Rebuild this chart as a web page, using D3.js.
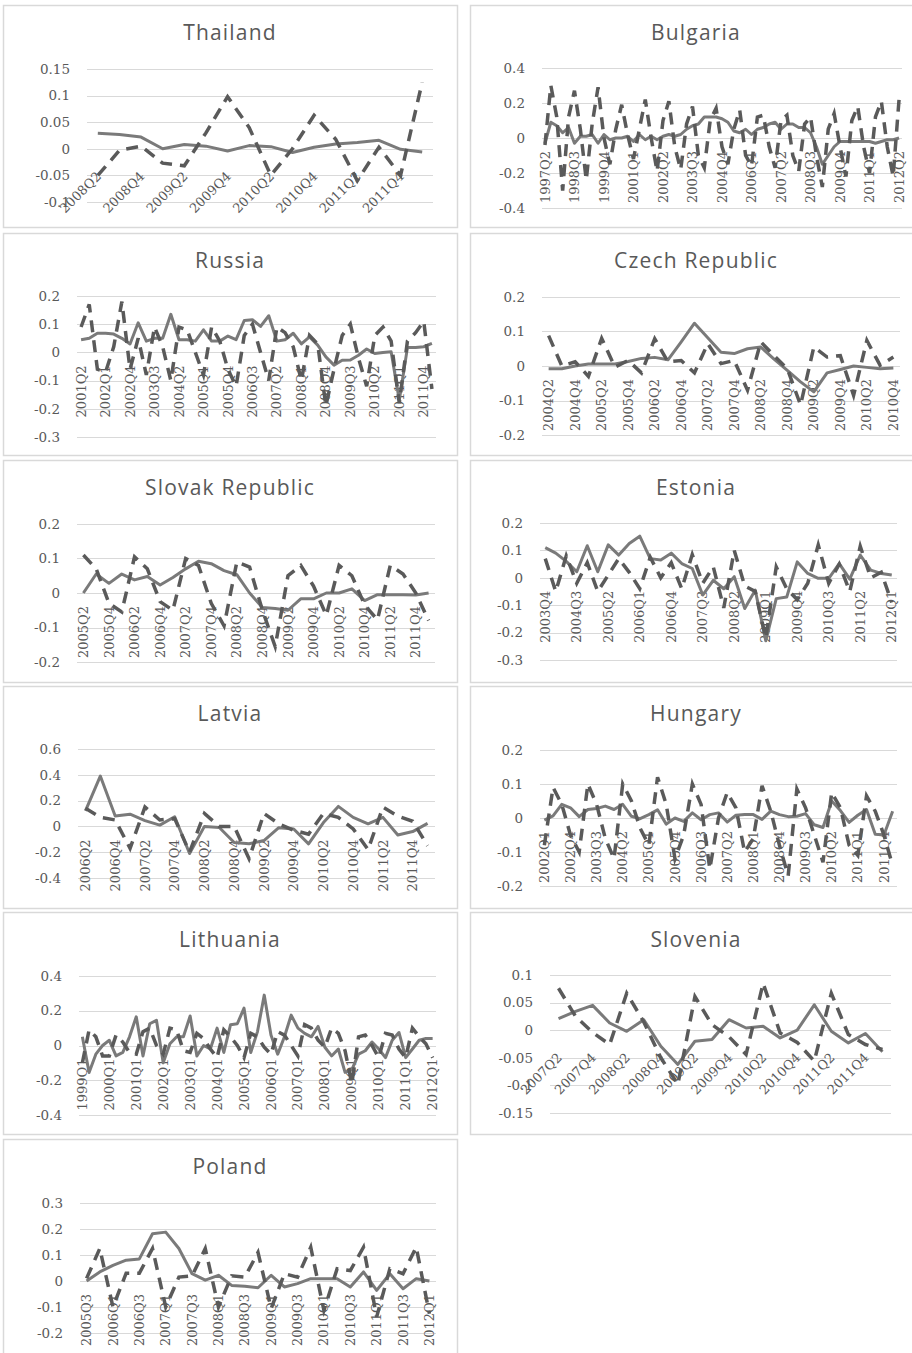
<!DOCTYPE html>
<html>
<head>
<meta charset="utf-8">
<script src="https://cdn.jsdelivr.net/npm/d3@7"></script>
<style>
    body { margin: 0; background: #fff; }
    svg { display: block; }
    .title { font-family: "Open Sans", "DejaVu Sans", sans-serif; font-size: 21px; letter-spacing: 1.2px; fill: #595959; }
    .tick-label { font-family: "DejaVu Serif", serif; font-size: 13.5px; fill: #595959; }
    .cat-label { font-family: "DejaVu Serif", serif; font-size: 13px; fill: #595959; }
</style>
</head>
<body>
<div id="chart"></div>
<script>

// quarter labels, built from first quarter + number of points
function quarters(start, n) {
    var yr = +start.slice(0, 4), q = +start.slice(5);
    var out = [];
    for (var i = 0; i < n; i++) {
        out.push(yr + "Q" + q);
        q++;
        if (q > 4) { q = 1; yr++; }
    }
    return out;
}

// ---- data (solid = first series, dashed = second series) ----
var thailandSolid = [0.029, 0.027, 0.022, 0.0, 0.008, 0.005, -0.004, 0.006, 0.004, -0.007, 0.003, 0.009, 0.012, 0.016, -0.001, -0.006];
var thailandDashed = [-0.05, -0.003, 0.005, -0.027, -0.032, 0.03, 0.098, 0.04, -0.05, 0.0, 0.063, 0.018, -0.06, 0.003, -0.05, 0.125];
var thailandTicks = [-0.1, -0.05, 0, 0.05, 0.1, 0.15];

var bulgariaSolid = [-0.03, 0.09, 0.07, 0.03, 0.06, -0.03, 0.01, 0.01, 0.02, -0.03,
    0.02, -0.01, 0.0, 0.0, 0.01, -0.02, 0.02, -0.01, 0.01, -0.01,
    0.01, 0.02, 0.01, 0.02, 0.05, 0.07, 0.08, 0.12, 0.12, 0.12,
    0.11, 0.09, 0.04, 0.03, 0.05, 0.02, 0.05, 0.06, 0.08, 0.09,
    0.05, 0.08, 0.08, 0.06, 0.06, 0.03, -0.05, -0.15, -0.1, -0.05,
    -0.02, -0.02, -0.02, -0.02, -0.02, -0.02, -0.03, -0.02, -0.01, -0.01, 0.0];
var bulgariaDashed = [-0.04, 0.3, 0.12,
    -0.3, 0.12, 0.27, 0.05,
    -0.24, 0.08, 0.29, 0.0,
    -0.15, 0.05, 0.19, 0.02,
    -0.12, 0.05, 0.22, 0.0,
    -0.19, 0.1, 0.21, -0.05,
    -0.18, 0.08, 0.18, -0.1,
    -0.17, 0.1, 0.17, -0.05,
    -0.15, 0.05, 0.16, -0.1,
    -0.16, 0.12, 0.13, -0.05,
    -0.17, 0.1, 0.13, -0.1,
    -0.19, 0.08, 0.12, -0.1,
    -0.28, 0.05, 0.14, -0.05,
    -0.22, 0.1, 0.18, -0.05,
    -0.2, 0.12, 0.21, -0.05,
    -0.22, 0.22];
var bulgariaTicks = [-0.4, -0.2, 0, 0.2, 0.4];

var russiaSolid = [0.045, 0.05, 0.068, 0.068, 0.065, 0.05, 0.03, 0.105, 0.04, 0.05,
    0.05, 0.135, 0.045, 0.045, 0.04, 0.08, 0.04, 0.04, 0.058, 0.045,
    0.113, 0.116, 0.092, 0.13, 0.04, 0.045, 0.068, 0.03, 0.055, 0.026,
    -0.016, -0.045, -0.028, -0.027, -0.01, 0.012, -0.004, 0.0, 0.002, -0.17,
    0.017, 0.017, 0.02, 0.032];
var russiaDashed = [0.09, 0.17, -0.06, -0.07, 0.02, 0.18, -0.06, 0.05, -0.08, 0.09,
    0.02, -0.1, 0.09, 0.08, 0.0, -0.08, 0.09, 0.04, -0.06, -0.12,
    0.06, 0.1, 0.0, -0.1, 0.09, 0.07, 0.02, -0.1, 0.06, 0.03,
    -0.19, -0.06, 0.06, 0.1, -0.02, -0.12, 0.06, 0.09, 0.04, -0.18,
    0.04, 0.07, 0.11, -0.13];
var russiaTicks = [-0.3, -0.2, -0.1, 0, 0.1, 0.2];

var czechSolid = [-0.008, -0.008, 0.0, 0.006, 0.006, 0.006, 0.013, 0.022, 0.025, 0.018,
    0.07, 0.124, 0.082, 0.04, 0.036, 0.05, 0.055, 0.02, -0.013, -0.046,
    -0.075, -0.02, -0.01, 0.0, -0.004, -0.008, -0.006];
var czechDashed = [0.088, 0.0, 0.012, -0.03, 0.08, -0.003, 0.016, -0.02, 0.079, 0.012,
    0.016, -0.02, 0.065, 0.007, 0.016, -0.07, 0.07, 0.03, -0.008, -0.113,
    0.055, 0.026, 0.03, -0.085, 0.074, 0.002, 0.026];
var czechTicks = [-0.2, -0.1, 0, 0.1, 0.2];

var slovakSolid = [0.0, 0.055, 0.028, 0.055, 0.038, 0.048, 0.023, 0.045, 0.07, 0.092,
    0.085, 0.065, 0.053, 0.0, -0.042, -0.045, -0.05, -0.017, -0.017, 0.0,
    0.0, 0.012, -0.022, -0.005, -0.005, -0.005, -0.006, 0.0];
var slovakDashed = [0.11, 0.07, -0.03, -0.055, 0.105, 0.07, -0.025, -0.05, 0.1, 0.08,
    -0.03, -0.095, 0.09, 0.075, -0.05, -0.155, 0.05, 0.08, 0.02, -0.065,
    0.08, 0.05, -0.035, -0.078, 0.08, 0.055, 0.0, -0.08];
var slovakTicks = [-0.2, -0.1, 0, 0.1, 0.2];

var estoniaSolid = [0.11, 0.09, 0.06, 0.022, 0.117, 0.022, 0.12, 0.083, 0.125, 0.152,
    0.07, 0.065, 0.09, 0.052, 0.034, -0.063, -0.009, -0.04, 0.004, -0.112,
    -0.045, -0.23, -0.076, -0.07, 0.058, 0.016, -0.002, -0.002, 0.052, -0.005,
    0.083, 0.028, 0.016, 0.01];
var estoniaDashed = [0.07, -0.05, 0.08, -0.02, 0.055, -0.05, 0.01, 0.07, 0.02, -0.04,
    0.075, 0.0, 0.055, -0.04, 0.085, -0.02, 0.04, -0.11, 0.1, -0.03,
    -0.05, -0.22, 0.04, -0.04, -0.08, -0.02, 0.12, -0.02, 0.05, -0.05,
    0.115, 0.0, 0.02, -0.09];
var estoniaTicks = [-0.3, -0.2, -0.1, 0, 0.1, 0.2];

var latviaSolid = [0.12, 0.39, 0.08, 0.095, 0.045, 0.01, 0.075, -0.21, 0.0, -0.008,
    -0.125, -0.135, -0.11, -0.01, -0.02, -0.135, 0.03, 0.155, 0.07, 0.02,
    0.07, -0.067, -0.04, 0.023];
var latviaDashed = [0.14, 0.07, 0.05, -0.17, 0.15, 0.05, 0.06, -0.2, 0.1, 0.0,
    0.0, -0.25, 0.1, 0.02, -0.03, -0.06, 0.1, 0.07, -0.02, -0.18,
    0.15, 0.08, 0.04, -0.15];
var latviaTicks = [-0.4, -0.2, 0, 0.2, 0.4, 0.6];

var hungarySolid = [-0.006, 0.006, 0.04, 0.03, 0.004, 0.025, 0.028, 0.035, 0.025, 0.04,
    0.005, -0.002, 0.01, 0.024, -0.018, 0.0, -0.01, 0.015, -0.005, 0.01,
    0.015, -0.012, 0.008, 0.01, 0.01, -0.004, 0.02, 0.01, 0.004, 0.005,
    0.013, -0.02, -0.028, 0.05, 0.022, -0.013, 0.008, 0.025, -0.048, -0.05,
    0.02];
var hungaryDashed = [-0.08, 0.09, 0.04, -0.05, -0.1, 0.1, 0.04, -0.06, -0.12, 0.1,
    0.05, -0.03, -0.08, 0.12, 0.04, -0.12, -0.05, 0.1, 0.04, -0.15,
    0.0, 0.075, 0.03, -0.1, -0.06, 0.095, 0.02, -0.08, -0.17, 0.085,
    0.03, -0.05, -0.13, 0.075, 0.03, -0.08, -0.11, 0.065, 0.02, -0.05,
    -0.14];
var hungaryTicks = [-0.2, -0.1, 0, 0.1, 0.2];

var lithuaniaSolid = [0.05, -0.155, -0.05, 0.0, 0.03, -0.06, -0.04, 0.05, 0.165, -0.06,
    0.125, 0.145, -0.1, 0.01, 0.05, 0.05, 0.17, -0.06, 0.0, -0.02,
    0.1, -0.04, 0.12, 0.125, 0.215, -0.04, 0.08, 0.29, 0.06, -0.05,
    0.05, 0.175, 0.1, 0.07, 0.05, 0.11, -0.01, -0.06, -0.02, -0.155,
    -0.14, -0.05, -0.03, 0.02, -0.02, -0.07, 0.03, 0.075, -0.07, -0.02,
    0.03, 0.04, 0.04];
var lithuaniaDashed = [-0.1, 0.09, 0.05, -0.06,
    -0.06, 0.06, 0.02, -0.04,
    -0.05, 0.08, 0.1, 0.0,
    -0.05, 0.1, 0.09, -0.03,
    -0.04, 0.07, 0.04, -0.02,
    -0.07, 0.09, 0.05, 0.0,
    -0.07, 0.07, 0.05, -0.01,
    -0.05, 0.08, 0.06, 0.0,
    -0.06, 0.12, 0.1, 0.03,
    -0.01, 0.1, 0.07, -0.03,
    -0.22, 0.05, 0.06, 0.0,
    -0.07, 0.07, 0.06, -0.02,
    -0.07, 0.1, 0.05, 0.01,
    -0.07];
var lithuaniaTicks = [-0.4, -0.2, 0, 0.2, 0.4];

var sloveniaSolid = [0.021, 0.034, 0.045, 0.013, -0.002, 0.019, -0.029, -0.062, -0.02, -0.017,
    0.019, 0.004, 0.007, -0.014, 0.0, 0.046, -0.002, -0.023, -0.006, -0.039];
var sloveniaDashed = [0.076, 0.025, -0.004, -0.026, 0.067, 0.015, -0.05, -0.098, 0.061, 0.01,
    -0.012, -0.044, 0.085, -0.005, -0.022, -0.056, 0.067, -0.008, -0.026, -0.035];
var sloveniaTicks = [-0.15, -0.1, -0.05, 0, 0.05, 0.1];

var polandSolid = [0.0, 0.035, 0.06, 0.08, 0.085, 0.182, 0.188, 0.125, 0.028, 0.003,
    0.022, -0.017, -0.02, -0.026, 0.022, -0.023, -0.01, 0.009, 0.009, 0.009,
    -0.023, 0.035, -0.036, 0.028, -0.03, 0.009, 0.0];
var polandDashed = [0.01, 0.125, -0.1, 0.03, 0.03, 0.125, -0.1, 0.015, 0.02, 0.125,
    -0.1, 0.02, 0.015, 0.11, -0.106, 0.028, 0.015, 0.13, -0.113, 0.047,
    0.04, 0.13, -0.138, 0.047, 0.028, 0.13, -0.126];
var polandTicks = [-0.2, -0.1, 0, 0.1, 0.2, 0.3];

// ---- layout ----
var rowTops = [5, 233, 460, 686, 912, 1139];
var colLefts = [3, 470];
var colWidths = [454, 452];
var panelHeight = 222;

var panels = [
    { name: "Thailand", col: 0, row: 0, start: "2008Q2", solid: thailandSolid, dashed: thailandDashed, ticks: thailandTicks, step: 2, rot: -45, left: 84, right: 430, top: 64, bottom: 197 },
    { name: "Bulgaria", col: 1, row: 0, start: "1997Q2", solid: bulgariaSolid, dashed: bulgariaDashed, ticks: bulgariaTicks, step: 5, rot: -90, left: 72, right: 432, top: 63, bottom: 203 },
    { name: "Russia", col: 0, row: 1, start: "2001Q2", solid: russiaSolid, dashed: russiaDashed, ticks: russiaTicks, step: 3, rot: -90, left: 74, right: 433, top: 63, bottom: 204 },
    { name: "Czech Republic", col: 1, row: 1, start: "2004Q2", solid: czechSolid, dashed: czechDashed, ticks: czechTicks, step: 2, rot: -90, left: 72, right: 430, top: 64, bottom: 202 },
    { name: "Slovak Republic", col: 0, row: 2, start: "2005Q2", solid: slovakSolid, dashed: slovakDashed, ticks: slovakTicks, step: 2, rot: -90, left: 74, right: 432, top: 64, bottom: 202 },
    { name: "Estonia", col: 1, row: 2, start: "2003Q4", solid: estoniaSolid, dashed: estoniaDashed, ticks: estoniaTicks, step: 3, rot: -90, left: 70, right: 427, top: 63, bottom: 200 },
    { name: "Latvia", col: 0, row: 3, start: "2006Q2", solid: latviaSolid, dashed: latviaDashed, ticks: latviaTicks, step: 2, rot: -90, left: 75, right: 432, top: 63, bottom: 192 },
    { name: "Hungary", col: 1, row: 3, start: "2002Q1", solid: hungarySolid, dashed: hungaryDashed, ticks: hungaryTicks, step: 3, rot: -90, left: 70, right: 427, top: 64, bottom: 200 },
    { name: "Lithuania", col: 0, row: 4, start: "1999Q1", solid: lithuaniaSolid, dashed: lithuaniaDashed, ticks: lithuaniaTicks, step: 4, rot: -90, left: 76, right: 433, top: 64, bottom: 203 },
    { name: "Slovenia", col: 1, row: 4, start: "2007Q2", solid: sloveniaSolid, dashed: sloveniaDashed, ticks: sloveniaTicks, step: 2, rot: -45, left: 80, right: 421, top: 63, bottom: 201 },
    { name: "Poland", col: 0, row: 5, start: "2005Q3", solid: polandSolid, dashed: polandDashed, ticks: polandTicks, step: 2, rot: -90, left: 77, right: 433, top: 64, bottom: 194 }
];

var svg = d3.select("#chart")
    .append("svg")
    .attr("width", 912)
    .attr("height", 1353);

svg.append("rect").attr("width", 912).attr("height", 1353).attr("fill", "#fff");

function fmt(v) {
    return String(Math.round(v * 100) / 100);
}

panels.forEach(drawPanel);

function drawPanel(p) {
    var cats = quarters(p.start, p.solid.length);
    var w = colWidths[p.col];

    var g = svg.append("g")
        .attr("transform", "translate(" + colLefts[p.col] + "," + rowTops[p.row] + ")");

    g.append("rect")
        .attr("x", 0.5)
        .attr("y", 0.5)
        .attr("width", w)
        .attr("height", panelHeight)
        .attr("fill", "#fff")
        .attr("stroke", "#d9d9d9")
        .attr("stroke-width", 1.5);

    g.append("text")
        .attr("class", "title")
        .attr("x", w / 2)
        .attr("y", 35)
        .attr("text-anchor", "middle")
        .text(p.name);

    var x = d3.scaleBand().domain(cats).range([p.left, p.right]);
    var y = d3.scaleLinear().domain(d3.extent(p.ticks)).range([p.bottom, p.top]);
    var cx = function(c) { return x(c) + x.bandwidth() / 2; };

    // gridlines
    g.selectAll(".grid")
        .data(p.ticks)
        .enter().append("line")
        .attr("x1", p.left)
        .attr("x2", p.right)
        .attr("y1", function(d) { return Math.round(y(d)) + 0.5; })
        .attr("y2", function(d) { return Math.round(y(d)) + 0.5; })
        .attr("stroke", "#d9d9d9")
        .attr("stroke-width", 1);

    g.selectAll(".tick-label")
        .data(p.ticks)
        .enter().append("text")
        .attr("class", "tick-label")
        .attr("x", p.left - 17)
        .attr("y", function(d) { return y(d); })
        .attr("dy", "0.35em")
        .attr("text-anchor", "end")
        .text(fmt);

    // category labels, every p.step-th quarter
    var shown = cats.filter(function(c, i) { return i % p.step === 0; });
    var y0 = y(0);
    g.selectAll(".cat-label")
        .data(shown)
        .enter().append("text")
        .attr("class", "cat-label")
        .attr("transform", function(c) {
            if (p.rot === -45) return "translate(" + (cx(c) + 1) + "," + (y0 + 25) + ") rotate(-45)";
            return "translate(" + cx(c) + "," + (y0 + 13) + ") rotate(-90)";
        })
        .attr("dy", "0.35em")
        .attr("text-anchor", "end")
        .text(function(c) { return c; });

    var line = d3.line()
        .x(function(d, i) { return cx(cats[i]); })
        .y(function(d) { return y(d); });

    g.append("path")
        .datum(p.solid)
        .attr("d", line)
        .attr("fill", "none")
        .attr("stroke", "#7a7a7a")
        .attr("stroke-width", 3)
        .attr("stroke-linejoin", "round");

    g.append("path")
        .datum(p.dashed)
        .attr("d", line)
        .attr("fill", "none")
        .attr("stroke", "#5a5a5a")
        .attr("stroke-width", 3.5)
        .attr("stroke-dasharray", "12,8");
}

</script>
</body>
</html>
